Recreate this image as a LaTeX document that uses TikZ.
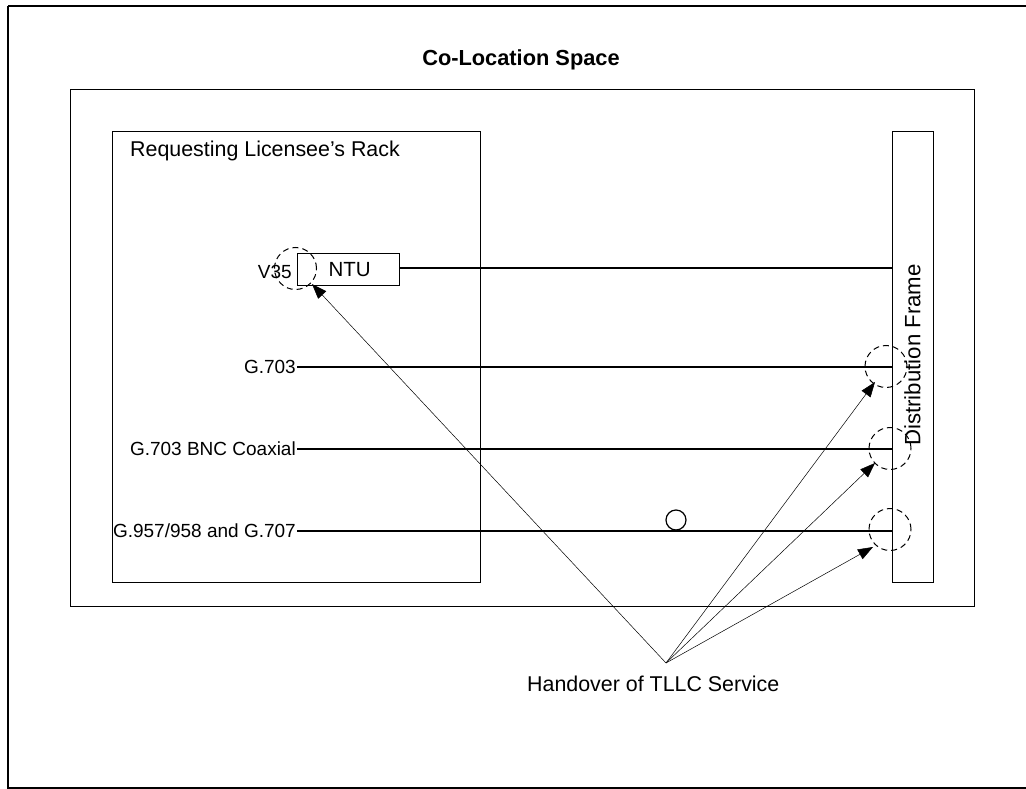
\documentclass[tikz,border=0pt]{standalone}
\usepackage{fontspec}
\setmainfont{Liberation Sans}
\usetikzlibrary{arrows.meta}
\begin{document}
\begin{tikzpicture}[x=1pt,y=-1pt,
  box/.style={draw,line width=1.4pt},
  lbl/.style={font=\fontsize{21.4}{24}\selectfont,inner sep=1pt},
  slbl/.style={font=\fontsize{19}{22}\selectfont,inner sep=1pt},
  wire/.style={line width=1.2pt},
  hand/.style={line width=0.5pt,-{Triangle[length=15pt,width=11pt]}},
  dcirc/.style={draw,dash pattern=on 6pt off 4pt,line width=1pt,circle,minimum size=42pt,inner sep=0pt}]
\useasboundingbox (0,0) rectangle (1026,789);
\draw[line width=2pt] (8,6) -- (1030,6);
\draw[line width=2pt] (8,6) -- (8,787.5) -- (1030,787.5);
\node[box,minimum width=904pt,minimum height=517pt,anchor=north west,inner sep=0pt] (space) at (70,89) {};
\node[font=\bfseries\fontsize{21.8}{24}\selectfont] (spacet) at (521,60) {Co-Location Space};
\node[box,minimum width=368pt,minimum height=451pt,anchor=north west,inner sep=0pt] (rack) at (112,131) {};
\node[lbl,anchor=west] (rackt) at (129,151) {Requesting Licensee’s Rack};
\node[box,minimum width=41pt,minimum height=451pt,anchor=north west,inner sep=0pt] (df) at (892,131) {};
\node[rotate=90,font=\fontsize{22.2}{24}\selectfont,inner sep=1pt] (dft) at (912.5,355) {Distribution Frame};
\node[box,minimum width=102pt,minimum height=32pt,anchor=north west,inner sep=0pt] (ntu) at (297,253) {};
\node[font=\fontsize{20.5}{24}\selectfont] at ([xshift=1pt]ntu.center) {NTU};
\node[slbl,anchor=east] (v35) at (293,272) {V35};
\coordinate (a1) at (892,268);
\draw[wire] (ntu.east |- a1) -- (a1);
\node[slbl,anchor=east] (g1) at (297,367) {G.703};
\node[slbl,anchor=east] (g2) at (297,449) {G.703 BNC Coaxial};
\node[slbl,anchor=east] (g3) at (297,531) {G.957/958 and G.707};
\draw[wire] (g1.east) -- (g1.east -| df.west);
\draw[wire] (g2.east) -- (g2.east -| df.west);
\draw[wire] (g3.east) -- (g3.east -| df.west);
\node[dcirc] (c0) at (295.5,268.5) {};
\node[dcirc] (c1) at (886,366.5) {};
\node[dcirc] (c2) at (890,448.5) {};
\node[dcirc] (c3) at (890,529.5) {};
\node[draw,circle,line width=1.2pt,minimum size=20pt,inner sep=0pt] (sc) at (676,520) {};
\node[lbl,anchor=west] (hand) at (526,684) {Handover of TLLC Service};
\coordinate (hub) at (666,663);
\coordinate (t0) at (312,284);
\coordinate (t1) at (875,382);
\coordinate (t2) at (875,463);
\coordinate (t3) at (873,547);
\draw[hand] (hub) -- (t0);
\draw[hand] (hub) -- (t1);
\draw[hand] (hub) -- (t2);
\draw[hand] (hub) -- (t3);
\end{tikzpicture}
\end{document}
